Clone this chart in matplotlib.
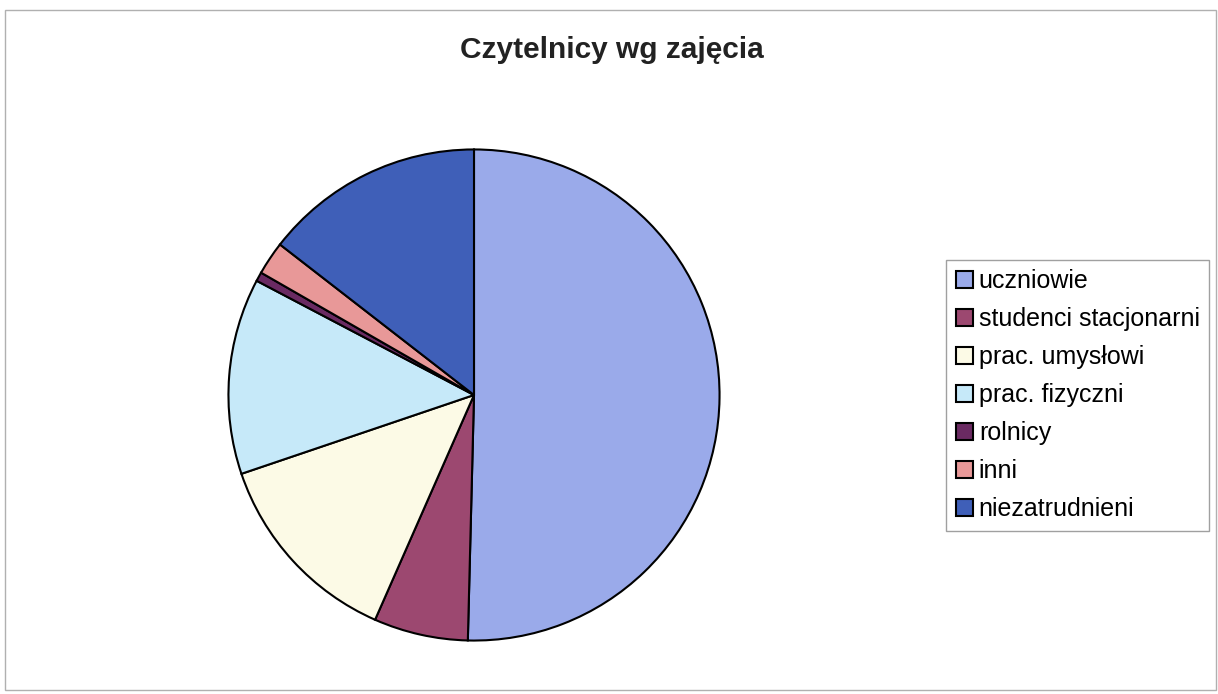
import matplotlib.pyplot as plt
from matplotlib.patches import Rectangle

plt.rcParams['font.family'] = ['Liberation Sans', 'DejaVu Sans']

# data (percent)
labels = ['uczniowie', 'studenci stacjonarni', 'prac. umysłowi', 'prac. fizyczni',
          'rolnicy', 'inni', 'niezatrudnieni']
values = [50.4, 6.2, 13.2, 12.9, 0.6, 2.2, 14.5]
colors = ['#9AAAEA', '#9C4870', '#FCFAE6', '#C6E9F9', '#6A2A62', '#E89898', '#3F5FB8']

fig = plt.figure(figsize=(12.18, 6.94), dpi=100)

# outer chart frame
fig.patches.append(Rectangle((5 / 1218, 4 / 694), 1211 / 1218, 680 / 694,
                             transform=fig.transFigure, fill=False,
                             edgecolor='#b0b0b0', linewidth=1))

# pie axes positioned around center (474, 395), radius ~248 px
cx, cy, r = 474 / 1218, 1 - 395 / 694, 248
ax = fig.add_axes([cx - r / 1218, cy - r / 694, 2 * r / 1218, 2 * r / 694])
wedges, _ = ax.pie(values, colors=colors, startangle=90, counterclock=False,
                   wedgeprops=dict(edgecolor='black', linewidth=1.5))
ax.set_xlim(-1.01, 1.01)
ax.set_ylim(-1.01, 1.01)
ax.set_aspect('equal')

fig.text(612 / 1218, 1 - 50 / 694, 'Czytelnicy wg zajęcia', ha='center', va='center',
         fontsize=21.5, fontweight='bold', color='#222222')

leg = fig.legend(wedges, labels, loc='center left', bbox_to_anchor=(946 / 1218, 1 - 395 / 694),
                 fontsize=18, frameon=True, fancybox=False, edgecolor='#888888',
                 handlelength=0.68, handleheight=0.68, handletextpad=0.25,
                 labelspacing=0.56, borderpad=0.38, borderaxespad=0)
leg.get_frame().set_linewidth(1)
for h in leg.legend_handles:
    h.set_linewidth(1.5)

fig.savefig('out.png', dpi=100)
